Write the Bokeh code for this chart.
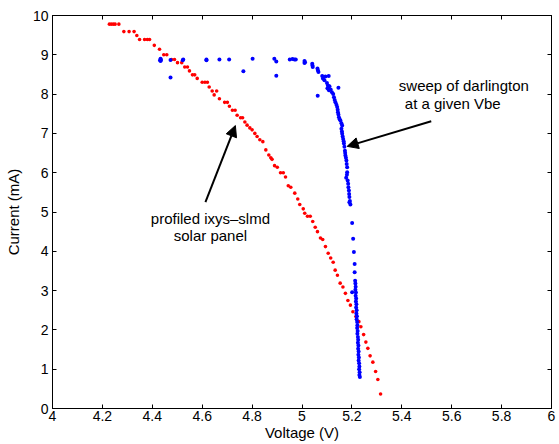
from bokeh.plotting import figure
from bokeh.models import FixedTicker, LinearAxis, Label, Arrow, NormalHead, CustomLabelingPolicy
from bokeh.embed import file_html
from bokeh.resources import INLINE

# ---- data ----
red_v = [4.228, 4.236, 4.244, 4.251, 4.266,
         4.286, 4.307, 4.327, 4.338,
         4.349, 4.369, 4.380, 4.389, 4.408, 4.429,
         4.446, 4.458, 4.477, 4.489, 4.501, 4.518,
         4.530, 4.541, 4.549, 4.561, 4.570, 4.580,
         4.600, 4.611, 4.621, 4.628, 4.640, 4.658, 4.648, 4.669,
         4.690, 4.701, 4.709, 4.721, 4.732, 4.740, 4.754, 4.762,
         4.771, 4.780, 4.791, 4.800, 4.811, 4.820, 4.831, 4.843,
         4.855, 4.867, 4.875, 4.880, 4.890, 4.901, 4.914, 4.925, 4.934,
         4.945, 4.955, 4.971, 4.983, 4.991,
         5.005, 5.011, 5.022, 5.033, 5.043, 5.053, 5.062, 5.074, 5.083,
         5.094, 5.105, 5.115, 5.125, 5.133, 5.142, 5.153, 5.164, 5.174,
         5.184, 5.194, 5.204, 5.216, 5.228, 5.236, 5.247, 5.256, 5.264,
         5.273, 5.284, 5.295, 5.304, 5.315]
red_i = [9.78, 9.78, 9.78, 9.78, 9.78,
         9.59, 9.59, 9.59, 9.49,
         9.39, 9.39, 9.39, 9.39, 9.24, 9.14,
         9.00, 9.00, 8.88, 8.88, 8.80, 8.80,
         8.69, 8.69, 8.59, 8.49, 8.49, 8.40,
         8.30, 8.30, 8.30, 8.18, 8.08, 8.08, 7.98, 7.88,
         7.79, 7.79, 7.69, 7.59, 7.59, 7.46, 7.40, 7.40,
         7.29, 7.21, 7.14, 7.09, 7.00, 6.92, 6.84, 6.79,
         6.58, 6.45, 6.38, 6.34, 6.18, 6.14, 6.00, 6.00, 5.89,
         5.67, 5.63, 5.48, 5.33, 5.19,
         5.08, 4.97, 4.89, 4.89, 4.76, 4.61, 4.50, 4.34, 4.30,
         4.12, 3.95, 3.83, 3.72, 3.52, 3.39, 3.19, 3.09, 2.93,
         2.75, 2.63, 2.46, 2.34, 2.21, 2.08, 1.88, 1.69, 1.53,
         1.34, 1.18, 0.94, 0.74, 0.37]

blue_v = [4.433, 4.433, 4.435, 4.431, 4.473, 4.473, 4.524, 4.522,
          4.617, 4.617, 4.669, 4.708, 4.765, 4.802,
          4.889, 4.897, 4.897, 4.951, 4.962, 4.970, 4.975,
          5.010, 5.010, 5.012, 5.041, 5.043, 5.042,
          5.062, 5.064, 5.066, 5.081, 5.084, 5.094, 5.090, 5.107,
          5.063,
          5.100, 5.104, 5.110, 5.102, 5.115, 5.108, 5.120, 5.125, 5.146,
          5.128, 5.131, 5.134, 5.138, 5.141, 5.143, 5.144, 5.146, 5.148,
          5.151, 5.154, 5.158, 5.161, 5.158, 5.160, 5.161, 5.163, 5.165,
          5.167, 5.168, 5.170, 5.172, 5.173, 5.174, 5.176, 5.178, 5.179,
          5.181, 5.181, 5.177, 5.180, 5.183, 5.185, 5.186, 5.188, 5.189,
          5.190, 5.192, 5.194, 5.190,
          5.201, 5.205, 5.208, 5.211, 5.211, 5.201,
          5.213, 5.214, 5.215, 5.214, 5.216, 5.215, 5.217, 5.216, 5.218,
          5.217, 5.219, 5.218, 5.220, 5.219, 5.221, 5.222, 5.221, 5.223,
          5.222, 5.224, 5.225, 5.224, 5.226, 5.225, 5.227, 5.226, 5.228,
          5.227, 5.229, 5.230, 5.229, 5.231, 5.230, 5.232]
blue_i = [8.90, 8.84, 8.87, 8.86, 8.87, 8.42, 8.88, 8.86,
          8.88, 8.86, 8.88, 8.88, 8.58, 8.90,
          8.90, 8.83, 8.47, 8.88, 8.89, 8.88, 8.88,
          8.84, 8.79, 8.81, 8.77, 8.69, 8.73,
          8.65, 8.60, 8.56, 8.46, 8.40, 8.45, 8.35, 8.46,
          7.96,
          8.28, 8.22, 8.20, 8.15, 8.12, 8.10, 8.05, 8.00, 8.16,
          7.92, 7.85, 7.79, 7.73, 7.67, 7.60, 7.54, 7.48, 7.41,
          7.36, 7.33, 7.26, 7.20, 7.12, 7.05, 6.99, 6.92, 6.86,
          6.80, 6.74, 6.66, 6.56, 6.50, 6.44, 6.38, 6.31, 6.22,
          6.14, 6.01, 5.87, 5.95, 5.80, 5.72, 5.63, 5.55, 5.46,
          5.38, 5.28, 5.19, 5.25,
          4.72, 4.32, 3.98, 3.68, 3.47, 2.96,
          3.25, 3.18, 3.10, 3.02, 2.95, 2.87, 2.80, 2.72, 2.65,
          2.57, 2.50, 2.42, 2.35, 2.27, 2.20, 2.12, 2.05, 1.97,
          1.90, 1.82, 1.75, 1.67, 1.60, 1.52, 1.45, 1.37, 1.30,
          1.22, 1.15, 1.07, 1.00, 0.92, 0.85, 0.80]

x_ticks = [4.0, 4.2, 4.4, 4.6, 4.8, 5.0, 5.2, 5.4, 5.6, 5.8, 6.0]
x_tick_labels = ["4", "4.2", "4.4", "4.6", "4.8", "5", "5.2", "5.4", "5.6", "5.8", "6"]
y_ticks = [0, 1, 2, 3, 4, 5, 6, 7, 8, 9, 10]
y_tick_labels = ["0", "1", "2", "3", "4", "5", "6", "7", "8", "9", "10"]

x_label = "Voltage (V)"
y_label = "Current (mA)"
note1 = ["sweep of darlington", " at a given Vbe"]
note2 = ["profiled ixys\u2013slmd", "solar panel"]

FONT = "Liberation Sans"

p = figure(width=559, height=444, x_range=(4, 6), y_range=(0, 10),
           output_backend="svg", toolbar_location=None,
           min_border_left=52, min_border_right=8,
           min_border_top=15, min_border_bottom=36)
p.background_fill_color = "white"
p.border_fill_color = "white"
p.outline_line_color = "black"
p.xgrid.visible = False
p.ygrid.visible = False

for ax, ticks, labels in ((p.xaxis[0], x_ticks, x_tick_labels),
                          (p.yaxis[0], y_ticks, y_tick_labels)):
    ax.ticker = FixedTicker(ticks=ticks)
    ax.major_label_overrides = {t: l for t, l in zip(ticks, labels)}
    ax.major_tick_in = 4
    ax.major_tick_out = 0
    ax.minor_tick_line_color = None
    ax.axis_line_color = "black"
    ax.major_tick_line_color = "black"
    ax.major_label_text_font = FONT
    ax.major_label_text_font_size = "14px"
    ax.major_label_text_color = "black"
    ax.axis_label_text_font = FONT
    ax.axis_label_text_font_size = "15px"
    ax.axis_label_text_font_style = "normal"
    ax.axis_label_text_color = "black"

p.xaxis.axis_label = x_label
p.yaxis.axis_label = y_label
p.xaxis.major_label_standoff = 2
p.xaxis.axis_label_standoff = 0
p.yaxis.major_label_standoff = 4
p.yaxis.axis_label_standoff = 8

hide_all = CustomLabelingPolicy(
    code="const n = indices.size; for (let i = 0; i < n; i++) { indices.unset(i) } return indices")
top = LinearAxis(ticker=FixedTicker(ticks=x_ticks), major_tick_in=4, major_tick_out=0,
                 minor_tick_line_color=None, major_label_policy=hide_all,
                 major_label_text_font_size="1px", major_label_standoff=0)
right = LinearAxis(ticker=FixedTicker(ticks=y_ticks), major_tick_in=4, major_tick_out=0,
                   minor_tick_line_color=None, major_label_policy=hide_all,
                   major_label_text_font_size="1px", major_label_standoff=0)
p.add_layout(top, "above")
p.add_layout(right, "right")

p.scatter(red_v, red_i, size=3.6, color="#ff0000", line_width=0)
p.scatter(blue_v, blue_i, size=4.0, color="#0000ff", line_width=0)

# annotations
p.add_layout(Arrow(end=NormalHead(size=11, fill_color="black", line_color="black"),
                   x_start=5.518, y_start=7.31, x_end=5.181, y_end=6.67,
                   line_width=2, line_color="black"))
p.add_layout(Arrow(end=NormalHead(size=11, fill_color="black", line_color="black"),
                   x_start=4.613, y_start=5.25, x_end=4.733, y_end=7.20,
                   line_width=2, line_color="black"))

for txt, x, y in ((note1[0], 5.388, 8.22), (note1[1], 5.412, 7.75)):
    p.add_layout(Label(x=x, y=y, text=txt, text_font=FONT, text_font_size="15px",
                       text_align="left", text_baseline="middle", text_color="black"))
for txt, x, y in ((note2[0], 4.633, 4.83), (note2[1], 4.633, 4.40)):
    p.add_layout(Label(x=x, y=y, text=txt, text_font=FONT, text_font_size="15px",
                       text_align="center", text_baseline="middle", text_color="black"))

open("out.html", "w").write(file_html(p, INLINE))
